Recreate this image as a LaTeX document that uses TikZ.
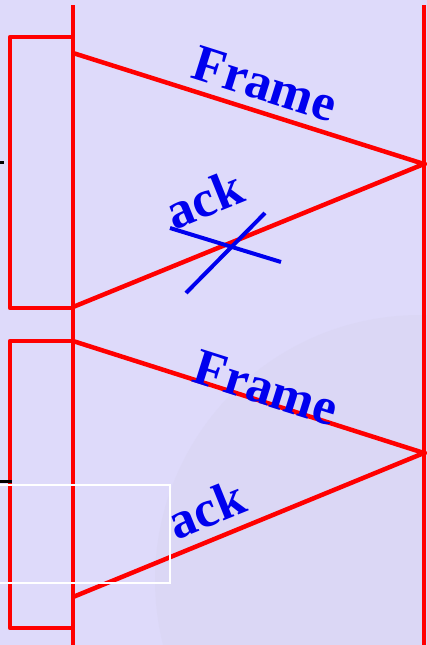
\documentclass[tikz,border=0pt]{standalone}
\usepackage{fontspec}
\setmainfont{Liberation Serif}
\definecolor{bg}{RGB}{222,218,250}
\definecolor{globe}{RGB}{214,210,238}
\definecolor{lred}{RGB}{255,0,0}
\definecolor{lblue}{RGB}{0,0,238}
\begin{document}
\begin{tikzpicture}[x=1pt,y=-1pt,
  redline/.style={draw=lred,line width=4.5pt},
  blueline/.style={draw=lblue,line width=4pt},
  lbl/.style={text=lblue,font=\fontsize{52}{52}\selectfont\bfseries,inner sep=0pt}]
\useasboundingbox (0,0) rectangle (427,645);
\fill[bg] (0,0) rectangle (427,645);
\begin{scope}
\clip (0,0) rectangle (427,645);
\fill[globe,opacity=0.35] (420,580) circle (265);
\end{scope}
% stations
\coordinate (Ltop) at (73,5);
\coordinate (Lbot) at (73,645);
\coordinate (Rtop) at (424,5);
\coordinate (Rbot) at (424,645);
\draw[redline] (Ltop) -- (Lbot);
\draw[redline] (Rtop) -- (Rbot);
% timer boxes
\draw[redline,line join=round] (73,37) -- (10,37) -- (10,308) -- (73,308);
\draw[redline,line join=round] (73,341) -- (10,341) -- (10,628) -- (73,628);
% message endpoints
\coordinate (f1s) at (73,53);
\coordinate (f1e) at (424,164);
\coordinate (a1e) at (73,307);
\coordinate (f2s) at (73,341);
\coordinate (f2e) at (424,453);
\coordinate (a2e) at (73,597);
\draw[redline] (f1s) -- (f1e) -- (a1e);
\draw[redline] (f2s) -- (f2e) -- (a2e);
% cross on lost ack
\coordinate (x1a) at (170,228);
\coordinate (x1b) at (281,262);
\coordinate (x2a) at (265,213);
\coordinate (x2b) at (186,293);
\draw[blueline] (x1a) -- (x1b);
\draw[blueline] (x2a) -- (x2b);
% labels
\node[lbl,rotate=-17.5] (fr1) at (265,84) {Frame};
\node[lbl,rotate=22] (ak1) at (204,199) {ack};
\node[lbl,rotate=-17.5] (fr2) at (266,388) {Frame};
\node[lbl,rotate=22] (ak2) at (206,509) {ack};
% black marks
\coordinate (m1a) at (0,162);
\coordinate (m1b) at (4,162);
\coordinate (m2a) at (0,481);
\coordinate (m2b) at (12,481);
\draw[black,line width=3pt] (m1a) -- (m1b);
\draw[black,line width=3pt] (m2a) -- (m2b);
% white box
\draw[white,line width=1.5pt] (-2,485) rectangle (170,583);
\end{tikzpicture}
\end{document}
